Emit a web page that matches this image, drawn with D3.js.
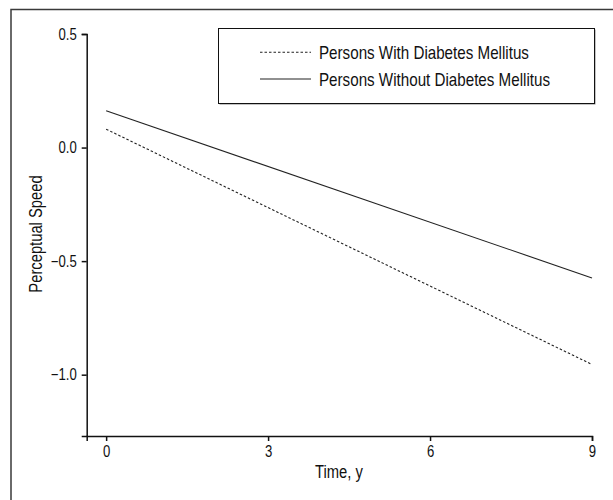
<!DOCTYPE html>
<html>
<head>
<meta charset="utf-8">
<script src="https://cdn.jsdelivr.net/npm/d3@7"></script>
<style>
  body { margin: 0; background: #fff; }
  svg text { font-family: "Liberation Sans", Arial, sans-serif; fill: #111; }
</style>
</head>
<body>
<script>
// data
var years = [0, 9];
var withDM = [0.081, -0.955];
var withoutDM = [0.162, -0.574];
var xTicks = [0, 3, 6, 9];
var yTicks = [0.5, 0.0, -0.5, -1.0];
var seriesNames = ["Persons With Diabetes Mellitus", "Persons Without Diabetes Mellitus"];

var width = 613, height = 500;
var narrow = 0.82; // fake a condensed face by squeezing Liberation Sans

var svg = d3.select("body").append("svg")
    .attr("width", width)
    .attr("height", height);

// outer frame (open at right/bottom, like the cropped original)
svg.append("path")
    .attr("d", "M11,500 L11,9.5 L613,9.5")
    .attr("fill", "none")
    .attr("stroke", "#3a3a3a")
    .attr("stroke-width", 1.5);

var x = d3.scaleLinear().domain([-0.36, 9]).range([86.7, 592]);
var y = d3.scaleLinear().domain([-1.27, 0.5]).range([436, 34]);

var fmtY = function(d) { return d.toFixed(1).replace("-", "\u2212"); };

var xAxis = svg.append("g")
    .attr("transform", "translate(0,436)")
    .call(d3.axisBottom(x).tickValues(xTicks).tickSize(5).tickPadding(5).tickFormat(d3.format("d")));

var yAxis = svg.append("g")
    .attr("transform", "translate(86.7,0)")
    .call(d3.axisLeft(y).tickValues(yTicks).tickSize(5).tickPadding(5).tickFormat(fmtY));

[xAxis, yAxis].forEach(function(g) {
    g.attr("font-family", null).attr("font-size", null);
    g.selectAll("path, line").attr("stroke", "#111").attr("stroke-width", 1.5);
    g.selectAll("text").style("font-size", "16px").attr("fill", "#111");
});

// axis titles
svg.append("text")
    .attr("x", 339)
    .attr("y", 478)
    .attr("text-anchor", "middle")
    .style("font-size", "18px")
    .text("Time, y");

svg.append("text")
    .attr("transform", "translate(42,234) rotate(-90)")
    .attr("text-anchor", "middle")
    .style("font-size", "18px")
    .text("Perceptual Speed");

// lines
var line = d3.line()
    .x(function(d) { return x(d[0]); })
    .y(function(d) { return y(d[1]); });

var series = [
    { name: seriesNames[0], values: d3.zip(years, withDM), dash: "2.5,2" },
    { name: seriesNames[1], values: d3.zip(years, withoutDM), dash: null }
];

svg.selectAll("path.series")
    .data(series)
    .enter()
    .append("path")
    .attr("class", "series")
    .attr("d", function(d) { return line(d.values); })
    .attr("fill", "none")
    .attr("stroke", "#222")
    .attr("stroke-width", 1.1)
    .attr("stroke-dasharray", function(d) { return d.dash; });

// legend box with a little shadow
svg.append("rect")
    .attr("x", 219.5).attr("y", 29.5)
    .attr("width", 376).attr("height", 75)
    .attr("fill", "#888");
svg.append("rect")
    .attr("x", 218.5).attr("y", 28.5)
    .attr("width", 376).attr("height", 75)
    .attr("fill", "#fff")
    .attr("stroke", "#111")
    .attr("stroke-width", 1);

var legend = svg.selectAll("g.legend")
    .data(series)
    .enter()
    .append("g")
    .attr("class", "legend")
    .attr("transform", function(d, i) { return translate(0, 52.3 + i * 26.7); });

legend.append("line")
    .attr("x1", 260).attr("x2", 311)
    .attr("y1", 0).attr("y2", 0)
    .attr("stroke", "#222")
    .attr("stroke-width", 1.1)
    .attr("stroke-dasharray", function(d) { return d.dash; });

legend.append("text")
    .attr("x", 319)
    .attr("y", 6.6)
    .style("font-size", "18.5px")
    .text(function(d) { return d.name; });

// squeeze every label horizontally
svg.selectAll("text").each(function() {
    var len = this.getComputedTextLength();
    d3.select(this)
        .attr("textLength", len * narrow)
        .attr("lengthAdjust", "spacingAndGlyphs");
});

function translate(a, b) {
    return "translate(" + a + "," + b + ")";
}
</script>
</body>
</html>
